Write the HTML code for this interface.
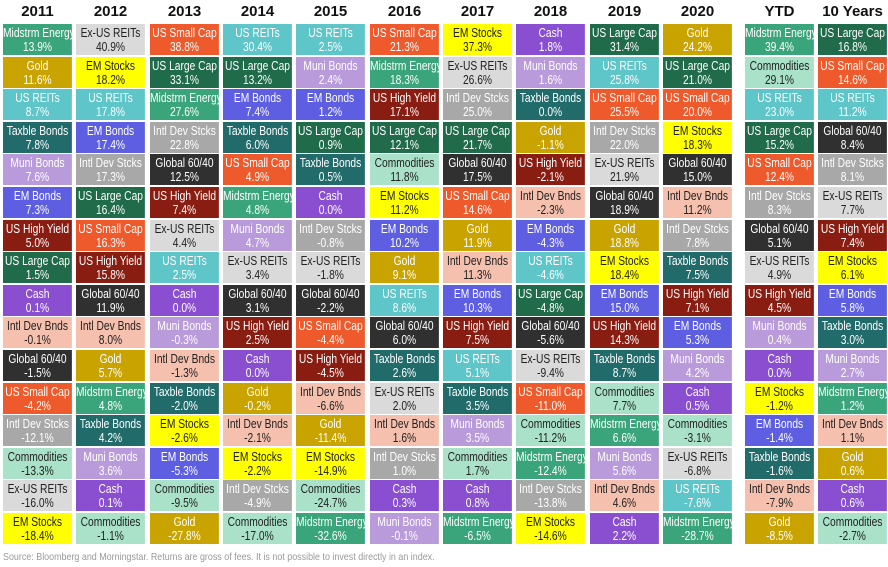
<!DOCTYPE html>
<html><head><meta charset="utf-8"><style>
body{margin:0;width:888px;height:567px;background:#fff;position:relative;overflow:hidden;font-family:"Liberation Sans",sans-serif}
.h{position:absolute;top:3px;width:69px;text-align:center;font:bold 15px "Liberation Sans",sans-serif;color:#111}
.c{position:absolute;top:24px;width:84.15px;transform:scaleX(.82);transform-origin:0 0}
.c div{height:31px;margin-bottom:1.6px;text-align:center;font-size:12.5px;line-height:14px;padding-top:2px;box-sizing:border-box;color:#fff;white-space:nowrap;overflow:hidden}
.me{background:#3aa57a}.go{background:#c9a400}.ur{background:#5ec5c9}.tb{background:#226b6b}
.mb{background:#b99bdb}.eb{background:#5d5ee2}.hy{background:#8a1d12}.lc{background:#1f6b4a}
.ca{background:#8a4fd0}.ib{background:#f5c0ae;color:#222!important}.gl{background:#303030}
.sc{background:#ee5a2c}.is{background:#a8a8a8}.co{background:#a9e1c9;color:#222!important}
.xr{background:#dadada;color:#222!important}.es{background:#ffff00;color:#222!important}
.f{position:absolute;left:3px;top:551px;font-size:10.5px;color:#999;transform:scaleX(.85);transform-origin:0 0;white-space:nowrap}
</style></head><body>
<div class="h" style="left:3px">2011</div><div class="h" style="left:76px">2012</div><div class="h" style="left:150px">2013</div><div class="h" style="left:223px">2014</div><div class="h" style="left:296px">2015</div><div class="h" style="left:370px">2016</div><div class="h" style="left:443px">2017</div><div class="h" style="left:516px">2018</div><div class="h" style="left:590px">2019</div><div class="h" style="left:663px">2020</div><div class="h" style="left:745px">YTD</div><div class="h" style="left:818px">10 Years</div>

<div class="c" style="left:3px">
<div class="me">Midstrm Energy<br>13.9%</div><div class="go">Gold<br>11.6%</div><div class="ur">US REITs<br>8.7%</div><div class="tb">Taxble Bonds<br>7.8%</div><div class="mb">Muni Bonds<br>7.6%</div><div class="eb">EM Bonds<br>7.3%</div><div class="hy">US High Yield<br>5.0%</div><div class="lc">US Large Cap<br>1.5%</div><div class="ca">Cash<br>0.1%</div><div class="ib">Intl Dev Bnds<br>-0.1%</div><div class="gl">Global 60/40<br>-1.5%</div><div class="sc">US Small Cap<br>-4.2%</div><div class="is">Intl Dev Stcks<br>-12.1%</div><div class="co">Commodities<br>-13.3%</div><div class="xr">Ex-US REITs<br>-16.0%</div><div class="es">EM Stocks<br>-18.4%</div>
</div>
<div class="c" style="left:76.3px">
<div class="xr">Ex-US REITs<br>40.9%</div><div class="es">EM Stocks<br>18.2%</div><div class="ur">US REITs<br>17.8%</div><div class="eb">EM Bonds<br>17.4%</div><div class="is">Intl Dev Stcks<br>17.3%</div><div class="lc">US Large Cap<br>16.4%</div><div class="sc">US Small Cap<br>16.3%</div><div class="hy">US High Yield<br>15.8%</div><div class="gl">Global 60/40<br>11.9%</div><div class="ib">Intl Dev Bnds<br>8.0%</div><div class="go">Gold<br>5.7%</div><div class="me">Midstrm Energy<br>4.8%</div><div class="tb">Taxble Bonds<br>4.2%</div><div class="mb">Muni Bonds<br>3.6%</div><div class="ca">Cash<br>0.1%</div><div class="co">Commodities<br>-1.1%</div>
</div>
<div class="c" style="left:149.6px">
<div class="sc">US Small Cap<br>38.8%</div><div class="lc">US Large Cap<br>33.1%</div><div class="me">Midstrm Energy<br>27.6%</div><div class="is">Intl Dev Stcks<br>22.8%</div><div class="gl">Global 60/40<br>12.5%</div><div class="hy">US High Yield<br>7.4%</div><div class="xr">Ex-US REITs<br>4.4%</div><div class="ur">US REITs<br>2.5%</div><div class="ca">Cash<br>0.0%</div><div class="mb">Muni Bonds<br>-0.3%</div><div class="ib">Intl Dev Bnds<br>-1.3%</div><div class="tb">Taxble Bonds<br>-2.0%</div><div class="es">EM Stocks<br>-2.6%</div><div class="eb">EM Bonds<br>-5.3%</div><div class="co">Commodities<br>-9.5%</div><div class="go">Gold<br>-27.8%</div>
</div>
<div class="c" style="left:223px">
<div class="ur">US REITs<br>30.4%</div><div class="lc">US Large Cap<br>13.2%</div><div class="eb">EM Bonds<br>7.4%</div><div class="tb">Taxble Bonds<br>6.0%</div><div class="sc">US Small Cap<br>4.9%</div><div class="me">Midstrm Energy<br>4.8%</div><div class="mb">Muni Bonds<br>4.7%</div><div class="xr">Ex-US REITs<br>3.4%</div><div class="gl">Global 60/40<br>3.1%</div><div class="hy">US High Yield<br>2.5%</div><div class="ca">Cash<br>0.0%</div><div class="go">Gold<br>-0.2%</div><div class="ib">Intl Dev Bnds<br>-2.1%</div><div class="es">EM Stocks<br>-2.2%</div><div class="is">Intl Dev Stcks<br>-4.9%</div><div class="co">Commodities<br>-17.0%</div>
</div>
<div class="c" style="left:296.3px">
<div class="ur">US REITs<br>2.5%</div><div class="mb">Muni Bonds<br>2.4%</div><div class="eb">EM Bonds<br>1.2%</div><div class="lc">US Large Cap<br>0.9%</div><div class="tb">Taxble Bonds<br>0.5%</div><div class="ca">Cash<br>0.0%</div><div class="is">Intl Dev Stcks<br>-0.8%</div><div class="xr">Ex-US REITs<br>-1.8%</div><div class="gl">Global 60/40<br>-2.2%</div><div class="sc">US Small Cap<br>-4.4%</div><div class="hy">US High Yield<br>-4.5%</div><div class="ib">Intl Dev Bnds<br>-6.6%</div><div class="go">Gold<br>-11.4%</div><div class="es">EM Stocks<br>-14.9%</div><div class="co">Commodities<br>-24.7%</div><div class="me">Midstrm Energy<br>-32.6%</div>
</div>
<div class="c" style="left:369.6px">
<div class="sc">US Small Cap<br>21.3%</div><div class="me">Midstrm Energy<br>18.3%</div><div class="hy">US High Yield<br>17.1%</div><div class="lc">US Large Cap<br>12.1%</div><div class="co">Commodities<br>11.8%</div><div class="es">EM Stocks<br>11.2%</div><div class="eb">EM Bonds<br>10.2%</div><div class="go">Gold<br>9.1%</div><div class="ur">US REITs<br>8.6%</div><div class="gl">Global 60/40<br>6.0%</div><div class="tb">Taxble Bonds<br>2.6%</div><div class="xr">Ex-US REITs<br>2.0%</div><div class="ib">Intl Dev Bnds<br>1.6%</div><div class="is">Intl Dev Stcks<br>1.0%</div><div class="ca">Cash<br>0.3%</div><div class="mb">Muni Bonds<br>-0.1%</div>
</div>
<div class="c" style="left:443px">
<div class="es">EM Stocks<br>37.3%</div><div class="xr">Ex-US REITs<br>26.6%</div><div class="is">Intl Dev Stcks<br>25.0%</div><div class="lc">US Large Cap<br>21.7%</div><div class="gl">Global 60/40<br>17.5%</div><div class="sc">US Small Cap<br>14.6%</div><div class="go">Gold<br>11.9%</div><div class="ib">Intl Dev Bnds<br>11.3%</div><div class="eb">EM Bonds<br>10.3%</div><div class="hy">US High Yield<br>7.5%</div><div class="ur">US REITs<br>5.1%</div><div class="tb">Taxble Bonds<br>3.5%</div><div class="mb">Muni Bonds<br>3.5%</div><div class="co">Commodities<br>1.7%</div><div class="ca">Cash<br>0.8%</div><div class="me">Midstrm Energy<br>-6.5%</div>
</div>
<div class="c" style="left:516.3px">
<div class="ca">Cash<br>1.8%</div><div class="mb">Muni Bonds<br>1.6%</div><div class="tb">Taxble Bonds<br>0.0%</div><div class="go">Gold<br>-1.1%</div><div class="hy">US High Yield<br>-2.1%</div><div class="ib">Intl Dev Bnds<br>-2.3%</div><div class="eb">EM Bonds<br>-4.3%</div><div class="ur">US REITs<br>-4.6%</div><div class="lc">US Large Cap<br>-4.8%</div><div class="gl">Global 60/40<br>-5.6%</div><div class="xr">Ex-US REITs<br>-9.4%</div><div class="sc">US Small Cap<br>-11.0%</div><div class="co">Commodities<br>-11.2%</div><div class="me">Midstrm Energy<br>-12.4%</div><div class="is">Intl Dev Stcks<br>-13.8%</div><div class="es">EM Stocks<br>-14.6%</div>
</div>
<div class="c" style="left:589.6px">
<div class="lc">US Large Cap<br>31.4%</div><div class="ur">US REITs<br>25.8%</div><div class="sc">US Small Cap<br>25.5%</div><div class="is">Intl Dev Stcks<br>22.0%</div><div class="xr">Ex-US REITs<br>21.9%</div><div class="gl">Global 60/40<br>18.9%</div><div class="go">Gold<br>18.8%</div><div class="es">EM Stocks<br>18.4%</div><div class="eb">EM Bonds<br>15.0%</div><div class="hy">US High Yield<br>14.3%</div><div class="tb">Taxble Bonds<br>8.7%</div><div class="co">Commodities<br>7.7%</div><div class="me">Midstrm Energy<br>6.6%</div><div class="mb">Muni Bonds<br>5.6%</div><div class="ib">Intl Dev Bnds<br>4.6%</div><div class="ca">Cash<br>2.2%</div>
</div>
<div class="c" style="left:663px">
<div class="go">Gold<br>24.2%</div><div class="lc">US Large Cap<br>21.0%</div><div class="sc">US Small Cap<br>20.0%</div><div class="es">EM Stocks<br>18.3%</div><div class="gl">Global 60/40<br>15.0%</div><div class="ib">Intl Dev Bnds<br>11.2%</div><div class="is">Intl Dev Stcks<br>7.8%</div><div class="tb">Taxble Bonds<br>7.5%</div><div class="hy">US High Yield<br>7.1%</div><div class="eb">EM Bonds<br>5.3%</div><div class="mb">Muni Bonds<br>4.2%</div><div class="ca">Cash<br>0.5%</div><div class="co">Commodities<br>-3.1%</div><div class="xr">Ex-US REITs<br>-6.8%</div><div class="ur">US REITs<br>-7.6%</div><div class="me">Midstrm Energy<br>-28.7%</div>
</div>
<div class="c" style="left:745px">
<div class="me">Midstrm Energy<br>39.4%</div><div class="co">Commodities<br>29.1%</div><div class="ur">US REITs<br>23.0%</div><div class="lc">US Large Cap<br>15.2%</div><div class="sc">US Small Cap<br>12.4%</div><div class="is">Intl Dev Stcks<br>8.3%</div><div class="gl">Global 60/40<br>5.1%</div><div class="xr">Ex-US REITs<br>4.9%</div><div class="hy">US High Yield<br>4.5%</div><div class="mb">Muni Bonds<br>0.4%</div><div class="ca">Cash<br>0.0%</div><div class="es">EM Stocks<br>-1.2%</div><div class="eb">EM Bonds<br>-1.4%</div><div class="tb">Taxble Bonds<br>-1.6%</div><div class="ib">Intl Dev Bnds<br>-7.9%</div><div class="go">Gold<br>-8.5%</div>
</div>
<div class="c" style="left:818px">
<div class="lc">US Large Cap<br>16.8%</div><div class="sc">US Small Cap<br>14.6%</div><div class="ur">US REITs<br>11.2%</div><div class="gl">Global 60/40<br>8.4%</div><div class="is">Intl Dev Stcks<br>8.1%</div><div class="xr">Ex-US REITs<br>7.7%</div><div class="hy">US High Yield<br>7.4%</div><div class="es">EM Stocks<br>6.1%</div><div class="eb">EM Bonds<br>5.8%</div><div class="tb">Taxble Bonds<br>3.0%</div><div class="mb">Muni Bonds<br>2.7%</div><div class="me">Midstrm Energy<br>1.2%</div><div class="ib">Intl Dev Bnds<br>1.1%</div><div class="go">Gold<br>0.6%</div><div class="ca">Cash<br>0.6%</div><div class="co">Commodities<br>-2.7%</div>
</div>
<div class="f">Source: Bloomberg and Morningstar. Returns are gross of fees. It is not possible to invest directly in an index.</div>
</body></html>
